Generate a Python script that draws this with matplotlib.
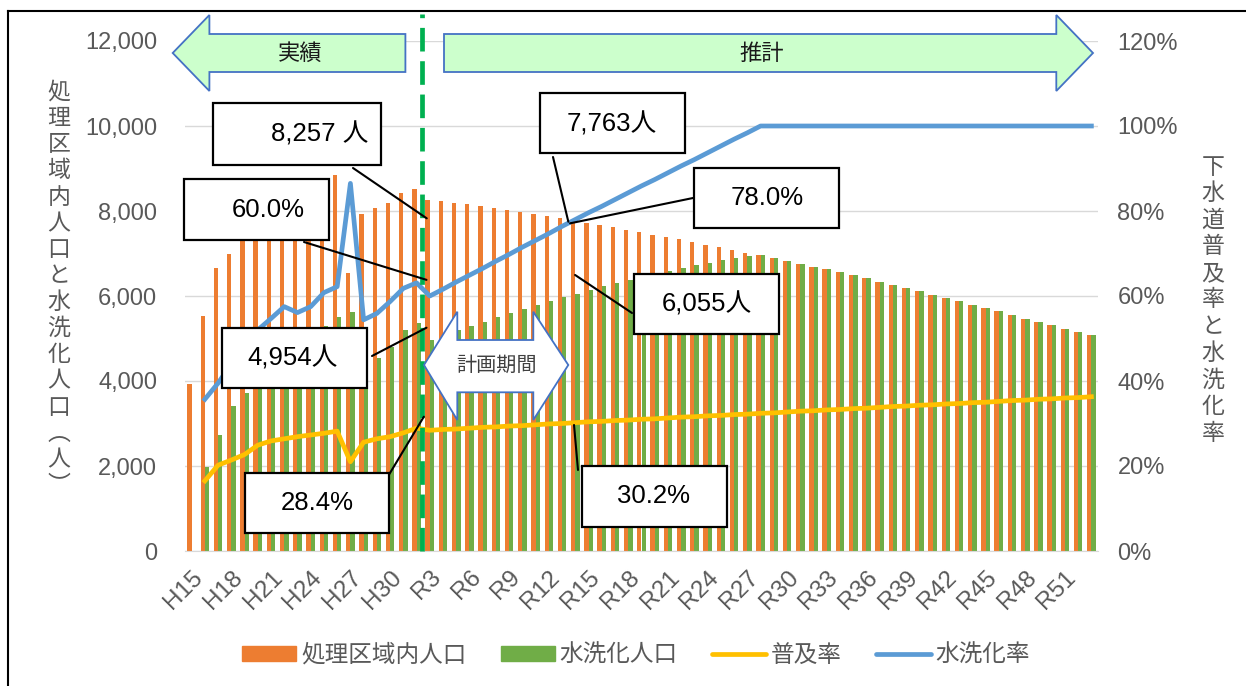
import numpy as np
import matplotlib.pyplot as plt
from matplotlib.patches import Rectangle, Polygon, Patch, ConnectionPatch
from matplotlib.lines import Line2D

plt.rcParams['font.family'] = ['Liberation Sans', 'Noto Sans CJK JP']
plt.rcParams['lines.scale_dashes'] = False

# categories: H15..H30 then R1..R53
years = [f'H{i}' for i in range(15, 31)] + [f'R{i}' for i in range(1, 54)]

# 処理区域内人口 (persons)
pop_area = [3920, 5540, 6670, 7000, 7450, 7800, 8050, 8250, 8400, 8550,
            8710, 8850, 6550, 7920, 8080, 8200, 8430, 8510, 8257, 8240,
            8200, 8165, 8118, 8070, 8023, 7976, 7929, 7874, 7827, 7763,
            7710, 7662, 7615, 7553, 7498, 7440, 7380, 7333, 7270, 7208,
            7145, 7082, 7020, 6957, 6894, 6831, 6761, 6690, 6627, 6557,
            6486, 6416, 6337, 6267, 6196, 6110, 6031, 5961, 5882, 5796,
            5718, 5639, 5553, 5467, 5388, 5310, 5231, 5145, 5074]

# 水洗化人口 (persons)
pop_flush = [0, 1984, 2729, 3410, 3710, 4060, 4400, 4740, 4710, 4920,
             5294, 5514, 5631, 4310, 4550, 4800, 5205, 5370, 4954, 5078,
             5200, 5300, 5400, 5500, 5596, 5695, 5792, 5882, 5975, 6055,
             6140, 6225, 6306, 6380, 6460, 6530, 6590, 6660, 6720, 6780,
             6840, 6895, 6940, 6957, 6894, 6831, 6761, 6690, 6627, 6557,
             6486, 6416, 6337, 6267, 6196, 6110, 6031, 5961, 5882, 5796,
             5718, 5639, 5553, 5467, 5388, 5310, 5231, 5145, 5074]

# 普及率 (%)
rate_sewer = [np.nan, 16.5, 20.2, 21.4, 22.7, 24.9, 25.9, 26.4, 26.9, 27.3,
              27.7, 28.2, 21.0, 25.6, 26.4, 26.9, 27.8, 28.9, 28.4, 28.6,
              28.7, 28.9, 29.1, 29.2, 29.4, 29.5, 29.7, 29.9, 30.0, 30.2,
              30.4, 30.5, 30.7, 30.8, 31.0, 31.1, 31.3, 31.5, 31.6, 31.8,
              31.9, 32.1, 32.2, 32.4, 32.5, 32.7, 32.9, 33.0, 33.2, 33.3,
              33.5, 33.6, 33.8, 34.0, 34.1, 34.3, 34.4, 34.6, 34.7, 34.9,
              35.0, 35.2, 35.4, 35.5, 35.7, 35.8, 36.0, 36.1, 36.3]

# 水洗化率 (%)
rate_flush = [np.nan, 35.7, 39.5, 44.0, 49.0, 52.0, 54.7, 57.5, 56.1, 57.5,
              60.8, 62.2, 86.5, 54.4, 55.9, 58.7, 61.8, 63.1, 60.0, 61.6,
              63.3, 64.9, 66.5, 68.2, 69.8, 71.5, 73.1, 74.7, 76.4, 78.0,
              79.6, 81.1, 82.7, 84.3, 85.9, 87.4, 89.0, 90.6, 92.1, 93.7,
              95.3, 96.9, 98.4, 100, 100, 100, 100, 100, 100, 100,
              100, 100, 100, 100, 100, 100, 100, 100, 100, 100,
              100, 100, 100, 100, 100, 100, 100, 100, 100]

W, H = 1246, 686
fig = plt.figure(figsize=(W / 100, H / 100), dpi=100)


def fp(x, y):
    return (x / W, 1 - y / H)


ax = fig.add_axes([185 / W, 1 - 551 / H, 913 / W, 510 / H])
ax2 = ax.twinx()

x = np.arange(len(years))
ax.bar(x - 0.163, pop_area, width=0.325, color='#ED7D31', zorder=2)
ax.bar(x + 0.163, pop_flush, width=0.325, color='#70AD47', zorder=2)
ax.set_xlim(-0.5, len(years) - 0.5)
ax.set_ylim(0, 12000)
ax.set_yticks(range(0, 12001, 2000))
ax.yaxis.set_major_formatter(lambda v, p: f'{int(v):,}')
ax.grid(axis='y', color='#D9D9D9', lw=1)
ax.set_axisbelow(True)
for s in ['top', 'right', 'left']:
    ax.spines[s].set_visible(False)
ax.spines['bottom'].set_color('#D9D9D9')
ax.tick_params(axis='y', length=0, pad=20, labelsize=17, labelcolor='#595959')
ax.set_xticks(x[::3])
ax.set_xticklabels(years[::3], rotation=45, ha='right', va='top',
                   rotation_mode='anchor')
ax.tick_params(axis='x', length=0, pad=11, labelsize=17.5, labelcolor='#595959')

ax2.plot(x, rate_sewer, color='#FFC000', lw=3.4, zorder=3)
ax2.plot(x, rate_flush, color='#5B9BD5', lw=3.4, zorder=3)
ax2.set_ylim(0, 120)
ax2.set_yticks(range(0, 121, 20))
ax2.yaxis.set_major_formatter(lambda v, p: f'{v:.0f}%')
ax2.tick_params(axis='y', length=0, pad=14, labelsize=17, labelcolor='#595959')
for s in ax2.spines.values():
    s.set_visible(False)

# actual / plan boundary
i3 = years.index('R3')
ax2.axvline(i3 - 0.6, ymin=0, ymax=1.052, color='#00B050', lw=3.4,
            dashes=(17, 7), clip_on=False, zorder=5)

# top arrows
left_arrow = [(172.7, 53), (209.4, 15), (209.4, 34), (405.4, 34), (405.4, 72),
              (209.4, 72), (209.4, 91)]
right_arrow = [(444, 34), (1056.3, 34), (1056.3, 15), (1093, 53), (1056.3, 91),
               (1056.3, 72), (444, 72)]
for pts in (left_arrow, right_arrow):
    fig.add_artist(Polygon([fp(*p) for p in pts], closed=True, transform=fig.transFigure,
                           fc='#CCFFCC', ec='#4472C4', lw=1.3, zorder=6))
fig.text(*fp(300, 53), '実績', ha='center', va='center', fontsize=16,
         color='#1a1a1a', family=['Noto Sans CJK JP'], zorder=7)
fig.text(*fp(762, 53), '推計', ha='center', va='center', fontsize=16,
         color='#1a1a1a', family=['Noto Sans CJK JP'], zorder=7)

# plan period double arrow
plan_arrow = [(424, 365), (457.3, 311.7), (457.3, 340), (533.3, 340), (533.3, 311.7),
              (568.3, 365), (533.3, 420), (533.3, 392.3), (457.3, 392.3), (457.3, 420)]
fig.add_artist(Polygon([fp(*p) for p in plan_arrow], closed=True, transform=fig.transFigure,
                       fc='white', ec='#4472C4', lw=1.3, zorder=6))
fig.text(*fp(497, 365), '計画期間', ha='center', va='center', fontsize=14.5,
         color='#404040', family=['Noto Sans CJK JP'], zorder=7)

# callouts: text, box (x0, y0, x1, y1), text centre, leader start, target (x, y data)
i14 = years.index('R14')
callouts = [
    ('8,257 人', (213, 103, 381, 165), (320, 134), (353, 168), (i3 - 0.23, pop_area[i3] - 430)),
    ('60.0%', (184, 179, 329, 240), (268, 210), (304, 242), (i3 - 0.25, rate_flush[i3] * 100 + 380)),
    ('4,954人', (222, 328, 367, 388), (293, 358), (372, 356), (i3 - 0.25, pop_flush[i3] + 300)),
    ('28.4%', (245, 473, 389, 533), (317, 503), (387, 478), (i3 - 0.45, rate_sewer[i3] * 100 + 320)),
    ('7,763人', (540, 93, 685, 153), (612, 124), (553, 157), (i14 - 0.53, pop_area[i14] - 15)),
    ('78.0%', (694, 168, 839, 228), (767, 198), (693, 198), (i14 - 0.4, rate_flush[i14] * 100 - 90)),
    ('6,055人', (634, 274, 779, 334), (707, 304), (632, 313), (i14 - 0.02, pop_flush[i14] + 440)),
    ('30.2%', (582, 466, 727, 527), (654, 496), (578, 470), (i14 - 0.1, rate_sewer[i14] * 100 - 55)),
]
for txt, (x0, y0, x1, y1), (tx, ty), (sx, sy), tgt in callouts:
    fig.add_artist(ConnectionPatch(xyA=fp(sx, sy), coordsA=fig.transFigure,
                                   xyB=tgt, coordsB=ax.transData,
                                   color='black', lw=1.5, zorder=8))
    fig.add_artist(Rectangle(fp(x0, y1), (x1 - x0) / W, (y1 - y0) / H,
                             transform=fig.transFigure, fc='white', ec='black',
                             lw=1.6, zorder=9))
    fig.text(*fp(tx, ty), txt, ha='center', va='center', fontsize=18.5,
             color='black', zorder=10)

# axis titles (vertical)
fig.text(*fp(59, 289), '\n'.join('処理区域内人口と水洗化人口︵人︶'), ha='center',
         va='center', fontsize=16.5, color='#595959', linespacing=1.18,
         family=['Noto Sans CJK JP'])
fig.text(*fp(1213, 300), '\n'.join('下水道普及率と水洗化率'), ha='center',
         va='center', fontsize=16.5, color='#595959', linespacing=1.2,
         family=['Noto Sans CJK JP'])

# legend
handles = [Patch(color='#ED7D31'), Patch(color='#70AD47'),
           Line2D([], [], color='#FFC000', lw=3.4, solid_capstyle='round'),
           Line2D([], [], color='#5B9BD5', lw=3.4, solid_capstyle='round')]
labels = ['処理区域内人口', '水洗化人口', '普及率', '水洗化率']
fig.legend(handles, labels, loc='center', bbox_to_anchor=fp(636, 655), ncol=4,
           frameon=False, labelcolor='#595959', handlelength=2.3,
           handleheight=0.6, handletextpad=0.2, columnspacing=1.45,
           prop={'family': ['Noto Sans CJK JP'], 'size': 17})

# chart frame
fig.add_artist(Line2D([8 / W, 8 / W], [0, 1 - 11 / H], transform=fig.transFigure,
                      color='black', lw=1.5))
fig.add_artist(Line2D([8 / W, 1], [1 - 11 / H, 1 - 11 / H], transform=fig.transFigure,
                      color='black', lw=1.5))

fig.savefig('out.png', dpi=100)
